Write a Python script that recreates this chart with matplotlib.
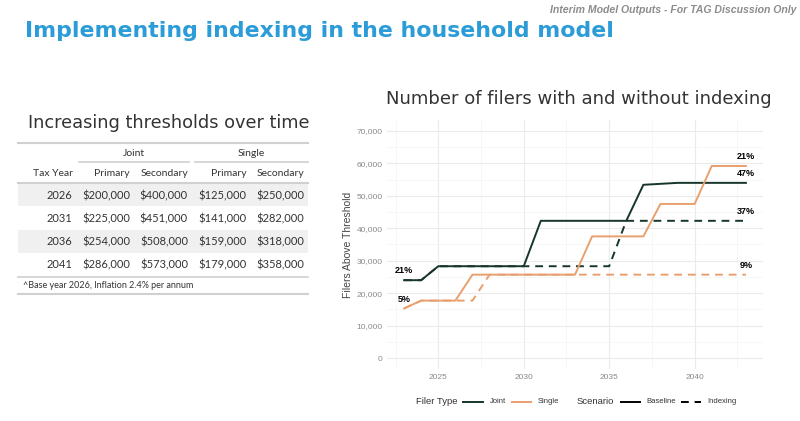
import numpy as np
import matplotlib
matplotlib.use('Agg')
import matplotlib.pyplot as plt
from matplotlib.lines import Line2D
from matplotlib.patches import Rectangle

# chart data
years = list(range(2023, 2044))
joint_baseline = [24000, 24000, 28300, 28300, 28300, 28300, 28300, 28300, 42300, 42300,
                  42300, 42300, 42300, 42300, 53400, 53700, 54000, 54000, 54000, 54000, 54000]
joint_indexing = [24000, 24000, 28300, 28300, 28300, 28300, 28300, 28300, 28300, 28300,
                  28300, 28300, 28300, 42300, 42300, 42300, 42300, 42300, 42300, 42300, 42300]
single_baseline = [15300, 17700, 17700, 17700, 25700, 25700, 25700, 25700, 25700, 25700,
                   25700, 37500, 37500, 37500, 37500, 47500, 47500, 47500, 59200, 59200, 59200]
single_indexing = [15300, 17700, 17700, 17700, 17700, 25700, 25700, 25700, 25700, 25700,
                   25700, 25700, 25700, 25700, 25700, 25700, 25700, 25700, 25700, 25700, 25700]

# end labels (year, series value, text)
point_labels = [(2023, 24000, '21%'), (2023, 15300, '5%'),
                (2043, 59200, '21%'), (2043, 54000, '47%'),
                (2043, 42300, '37%'), (2043, 25700, '9%')]

# table data
tax_years = ['2026', '2031', '2036', '2041']
joint_primary = ['$200,000', '$225,000', '$254,000', '$286,000']
joint_secondary = ['$400,000', '$451,000', '$508,000', '$573,000']
single_primary = ['$125,000', '$141,000', '$159,000', '$179,000']
single_secondary = ['$250,000', '$282,000', '$318,000', '$358,000']

JOINT = '#16352b'
SINGLE = '#e8a06e'
W, H = 800, 421
GG = 'Liberation Sans'


def px(x, y):
    return x / W, 1 - y / H


def hline(fig, x0, x1, y, color='#d0d0d0', lw=1.2):
    fig.add_artist(Line2D([x0 / W, x1 / W], [1 - y / H, 1 - y / H],
                          transform=fig.transFigure, color=color, lw=lw))


def main():
    fig = plt.figure(figsize=(8, 4.21), dpi=100)
    fig.patch.set_facecolor('white')

    # header
    fig.text(*px(25, 31), 'Implementing indexing in the household model', color='#2b9cd8',
             fontsize=15.8, fontweight='bold', va='center', ha='left', family='DejaVu Sans')
    fig.text(*px(797, 10), 'Interim Model Outputs - For TAG Discussion Only', color='#8c8c8c',
             fontsize=7.6, fontweight='bold', style='italic', va='center', ha='right',
             family=GG)

    # ---- table ----
    tf = 'Lato'
    tc = '#333333'
    fig.text(*px(28, 122.7), 'Increasing thresholds over time', fontsize=12.8, color=tc,
             va='center', ha='left', family='DejaVu Sans')
    hline(fig, 18, 308, 143.3, lw=1.5)
    fig.text(*px(134, 153.3), 'Joint', fontsize=7.5, color=tc, ha='center', va='center', family=tf)
    fig.text(*px(251.7, 153.3), 'Single', fontsize=7.5, color=tc, ha='center', va='center', family=tf)
    hline(fig, 79, 189, 162.3)
    hline(fig, 195, 308, 162.3)
    col_x = [72.7, 130, 188, 246.7, 304]
    for x, t in zip(col_x, ['Tax Year', 'Primary', 'Secondary', 'Primary', 'Secondary']):
        fig.text(*px(x, 173.3), t, fontsize=7.5, color=tc, ha='right', va='center', family=tf)
    row_top = 183.3
    row_h = 23.1
    cols = [tax_years, joint_primary, joint_secondary, single_primary, single_secondary]
    for i in range(len(tax_years)):
        y0 = row_top + i * row_h
        if i % 2 == 0:
            fig.add_artist(Rectangle((18 / W, 1 - (y0 + row_h) / H), 290 / W, row_h / H,
                                     transform=fig.transFigure, color='#f0f0f0', lw=0))
        for x, col in zip(col_x, cols):
            fig.text(*px(x, y0 + row_h / 2 + 0.8), col[i], fontsize=8, color=tc,
                     ha='right', va='center', family=tf)
    hline(fig, 18, 308, row_top, lw=1.5)
    hline(fig, 18, 308, row_top + 4 * row_h + 0.8)
    fig.text(*px(23, 286), '^Base year 2026, Inflation 2.4% per annum', fontsize=6.5,
             color=tc, ha='left', va='center', family=tf)
    hline(fig, 18, 308, 294.3, lw=1.5)

    # ---- chart ----
    ax = fig.add_axes([387 / W, 1 - 369.4 / H, 376 / W, 249.8 / H])
    ax.plot(years, joint_indexing, color=JOINT, lw=1.4, dashes=(4, 3))
    ax.plot(years, single_indexing, color=SINGLE, lw=1.4, dashes=(4, 3))
    ax.plot(years, joint_baseline, color=JOINT, lw=1.4)
    ax.plot(years, single_baseline, color=SINGLE, lw=1.4)
    for x, v, t in point_labels:
        ax.text(x, v + 2900, t, fontsize=6.5, fontweight='bold', ha='center', va='center',
                color='black', family=GG)

    ax.set_xlim(2022, 2044)
    ax.set_ylim(-3500, 73500)
    ax.set_xticks([2025, 2030, 2035, 2040])
    ax.set_xticks(np.arange(2022.5, 2044, 5), minor=True)
    ax.set_yticks(np.arange(0, 70001, 10000))
    ax.set_yticks(np.arange(5000, 70000, 10000), minor=True)
    ax.set_yticklabels([f'{v:,}' for v in range(0, 70001, 10000)])
    ax.grid(which='major', color='#ebebeb', lw=0.8)
    ax.grid(which='minor', color='#f4f4f4', lw=0.5)
    ax.set_axisbelow(True)
    for s in ax.spines.values():
        s.set_visible(False)
    ax.tick_params(which='both', length=0, labelsize=6, labelcolor='#8a8a8a', pad=3)
    for lab in ax.get_xticklabels() + ax.get_yticklabels():
        lab.set_family(GG)
    ax.set_ylabel('Filers Above Threshold', fontsize=7.5, color='#444444', family=GG)
    ax.yaxis.set_label_coords((353 - 387) / 376, 0.5)

    fig.text(*px(578.5, 98.5), 'Number of filers with and without indexing', fontsize=13,
             color=tc, ha='center', va='center', family='DejaVu Sans')

    # legend
    ly = 401.7
    fig.text(*px(416, ly), 'Filer Type', fontsize=6.8, color=tc, va='center', ha='left', family=GG)
    keys = [(463, 482.7, JOINT, '-', 'Joint', 489.7),
            (512, 531, SINGLE, '-', 'Single', 538),
            (621, 640, 'black', '-', 'Baseline', 646),
            (681, 701, 'black', '--', 'Indexing', 707.7)]
    for x0, x1, c, ls, lab, tx in keys:
        ln = Line2D([x0 / W, x1 / W], [1 - ly / H] * 2, transform=fig.transFigure,
                    color=c, lw=1.4, ls=ls)
        if ls == '--':
            ln.set_dashes((4, 3))
        fig.add_artist(ln)
        fig.text(*px(tx, ly), lab, fontsize=5.5, color=tc, va='center', ha='left', family=GG)
    fig.text(*px(577, ly), 'Scenario', fontsize=6.8, color=tc, va='center', ha='left', family=GG)

    fig.savefig('out.png', dpi=100)


if __name__ == '__main__':
    main()
